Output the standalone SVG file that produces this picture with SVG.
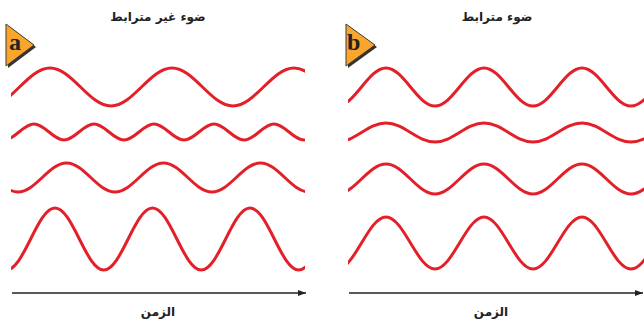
<svg xmlns="http://www.w3.org/2000/svg" width="644" height="322" viewBox="0 0 644 322">
<style>
.wave{fill:none;stroke:#e3202a;stroke-width:3;stroke-linecap:butt}
.axis{stroke:#222;stroke-width:1.5;fill:none}
.title{font-family:"DejaVu Sans",sans-serif;font-weight:bold;font-size:12px;fill:#222;text-anchor:middle}
.badge{fill:#f9a62a;stroke:#3a3a3a;stroke-width:1}
.shadow{fill:#333}
.letter{font-family:"Liberation Serif",serif;font-weight:bold;font-size:24px;fill:#222}
</style>
<defs>
<clipPath id="ca"><rect x="11" y="0" width="294" height="322"/></clipPath>
<clipPath id="cb"><rect x="348" y="0" width="296" height="322"/></clipPath>
<marker id="arr" viewBox="0 0 8 6" refX="8" refY="3" markerWidth="8" markerHeight="6" markerUnits="userSpaceOnUse" orient="auto"><path d="M0,0 L8,3 L0,6 Z" fill="#222"/></marker>
</defs>
<g id="panel-a">
<g id="badge-a"><polygon class="shadow" points="8,26 8,68 36,47"/><polygon class="badge" points="6,24 6,66 34,45"/><text class="letter" x="9" y="50">a</text></g>
<text id="title-a" class="title" x="158" y="21">ضوء غير مترابط</text>
<g id="waves-a" clip-path="url(#ca)">
<path class="wave" d="M-11,106 C11.2,106 27.8,68 50,68 S88.8,106 111,106 S149.8,68 172,68 S210.8,106 233,106 S271.8,68 294,68 S332.8,106 355,106"/>
<path class="wave" d="M4,140 C14.9,140 23.1,124 34,124 S53.1,140 64,140 S83.1,124 94,124 S113.1,140 124,140 S143.1,124 154,124 S173.1,140 184,140 S203.1,124 214,124 S233.1,140 244,140 S263.1,124 274,124 S293.1,140 304,140 S323.1,124 334,124"/>
<path class="wave" d="M-30.5,163 C-12.9,163 0.4,192 18,192 S48.9,163 66.5,163 S97.4,192 115,192 S145.9,163 163.5,163 S194.4,192 212,192 S242.9,163 260.5,163 S291.4,192 309,192 S339.9,163 357.5,163"/>
<path class="wave" d="M-42.5,208 C-24.8,208 -11.5,270 6.25,270 S37.3,208 55,208 S86,270 103.75,270 S134.8,208 152.5,208 S183.5,270 201.25,270 S232.3,208 250,208 S281,270 298.75,270 S329.8,208 347.5,208"/>
</g>
<text id="time-a" class="title" x="158" y="316">الزمن</text>
</g>
<g id="panel-b">
<g id="badge-b"><polygon class="shadow" points="348,26 348,68 377,47"/><polygon class="badge" points="346,24 346,66 375,45"/><text class="letter" x="347" y="50">b</text></g>
<text id="title-b" class="title" x="497" y="21">ضوء مترابط</text>
<g id="waves-b" clip-path="url(#cb)">
<path class="wave" d="M337,106 C354.8,106 368.2,68 386,68 S417.2,106 435,106 S466.2,68 484,68 S515.2,106 533,106 S564.2,68 582,68 S613.2,106 631,106 S662.2,68 680,68"/>
<path class="wave" d="M337,142 C354.8,142 368.2,123 386,123 S417.2,142 435,142 S466.2,123 484,123 S515.2,142 533,142 S564.2,123 582,123 S613.2,142 631,142 S662.2,123 680,123"/>
<path class="wave" d="M337,194 C354.8,194 368.2,164 386,164 S417.2,194 435,194 S466.2,164 484,164 S515.2,194 533,194 S564.2,164 582,164 S613.2,194 631,194 S662.2,164 680,164"/>
<path class="wave" d="M337,269 C354.8,269 368.2,217 386,217 S417.2,269 435,269 S466.2,217 484,217 S515.2,269 533,269 S564.2,217 582,217 S613.2,269 631,269 S662.2,217 680,217"/>
</g>
<text id="time-b" class="title" x="491" y="316">الزمن</text>
</g>
<g id="connectors">
<line class="axis" x1="12" y1="293" x2="306" y2="293" marker-end="url(#arr)"/>
<line class="axis" x1="349" y1="293" x2="643" y2="293" marker-end="url(#arr)"/>
</g>
</svg>
